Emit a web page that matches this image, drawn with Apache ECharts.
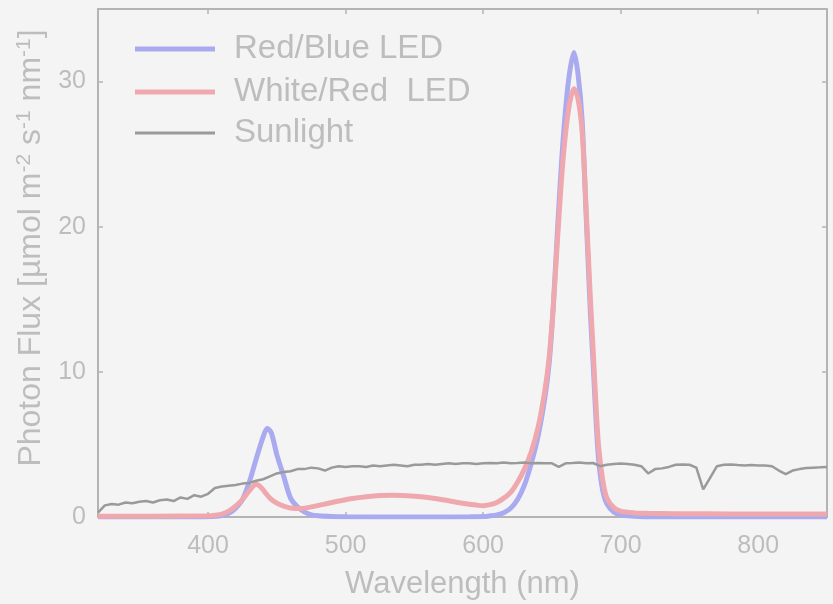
<!DOCTYPE html>
<html>
<head>
<meta charset="utf-8">
<script src="https://cdn.jsdelivr.net/npm/echarts@6/dist/echarts.min.js"></script>
<style>
  html, body { margin: 0; padding: 0; background: #f4f4f4; }
  #main { width: 833px; height: 604px; }
</style>
</head>
<body>
<div id="main"></div>
<script>
// wavelength ticks
const xTicks = [400, 500, 600, 700, 800];
const yTicks = [0, 10, 20, 30];

// Red/Blue LED
const rbWl = [320, 350, 380, 400, 410, 416, 420, 425, 430, 435, 440, 443, 446, 450, 455, 460, 465, 470, 475, 480, 490, 500, 550, 590,
  600, 605, 610, 615, 620, 625, 630, 635, 640, 645, 648, 651, 654, 658, 662, 666, 669, 672, 675, 678, 680, 682, 684, 687, 690, 695, 700, 710, 720, 780, 850];
const rbVal = [0, 0, 0, 0.02, 0.1, 0.3, 0.6, 1.2, 2.4, 4.0, 5.5, 6.1, 5.8, 4.3, 2.8, 1.3, 0.7, 0.35, 0.15, 0.08, 0.03, 0.01, 0, 0.01,
  0.03, 0.08, 0.15, 0.3, 0.6, 1.2, 2.2, 3.7, 5.6, 8.3, 10.6, 14.5, 19.7, 25.8, 30.0, 32.0, 30.5, 27.3, 20.5, 14.0, 10.5, 6.8, 3.9, 1.8, 0.9, 0.35, 0.15, 0.05, 0, 0, 0];

// White/Red LED
const wrWl = [320, 360, 400, 405, 410, 415, 420, 425, 430, 435, 438, 441, 445, 450, 455, 460, 467, 475, 485, 495, 505, 515, 525, 535, 545, 555, 565, 575, 585, 595,
  600, 605, 610, 615, 620, 625, 630, 635, 640, 645, 648, 651, 654, 658, 662, 666, 669, 672, 675, 678, 680, 682, 684, 687, 690, 695, 700, 710, 720, 760, 800, 850];
const wrVal = [0.05, 0.06, 0.08, 0.12, 0.2, 0.4, 0.75, 1.2, 1.8, 2.25, 2.1, 1.75, 1.3, 0.95, 0.75, 0.62, 0.58, 0.7, 0.9, 1.1, 1.28, 1.4, 1.48, 1.5, 1.47, 1.4, 1.28, 1.12, 0.95, 0.82,
  0.78, 0.85, 1.0, 1.3, 1.7, 2.4, 3.3, 4.5, 6.2, 8.8, 11.0, 14.5, 19.0, 24.5, 28.0, 29.5, 28.8, 26.5, 21.0, 15.0, 11.5, 7.8, 4.8, 2.5, 1.3, 0.65, 0.4, 0.28, 0.25, 0.22, 0.2, 0.2];

// Sunlight
const sunWl = [320, 325, 330, 335, 340, 345, 350, 355, 360, 365, 370, 375, 380, 385, 390, 395, 400, 405, 410, 415, 420, 425, 430, 435, 440, 445,
  450, 455, 460, 465, 470, 475, 480, 485, 490, 495, 500, 505, 510, 515, 520, 525, 530, 535, 540, 545, 550, 555, 560, 565, 570, 575, 580, 585,
  590, 595, 600, 605, 610, 615, 620, 625, 630, 635, 640, 645, 650, 655, 660, 665, 670, 675, 680, 685, 690, 695, 700, 705, 710, 715, 720, 725,
  730, 735, 740, 745, 750, 755, 760, 765, 770, 775, 780, 785, 790, 795, 800, 805, 810, 815, 820, 825, 830, 835, 840, 845, 850];
const sunVal = [0.3, 0.8, 0.9, 0.85, 1.0, 0.95, 1.05, 1.1, 1.0, 1.15, 1.2, 1.1, 1.35, 1.25, 1.5, 1.4, 1.6, 2.0, 2.1, 2.15, 2.2, 2.3, 2.35, 2.5, 2.6, 2.8,
  3.0, 3.1, 3.15, 3.3, 3.3, 3.4, 3.35, 3.2, 3.4, 3.5, 3.45, 3.5, 3.5, 3.45, 3.55, 3.5, 3.55, 3.6, 3.55, 3.5, 3.6, 3.6, 3.65, 3.6, 3.65, 3.7, 3.65, 3.7,
  3.7, 3.65, 3.7, 3.72, 3.7, 3.75, 3.7, 3.72, 3.75, 3.7, 3.72, 3.7, 3.7, 3.45, 3.7, 3.72, 3.75, 3.7, 3.72, 3.5, 3.6, 3.65, 3.68, 3.65, 3.6, 3.5, 3.0, 3.3,
  3.35, 3.45, 3.6, 3.62, 3.6, 3.4, 1.9, 2.7, 3.5, 3.6, 3.62, 3.58, 3.55, 3.58, 3.55, 3.55, 3.5, 3.2, 2.95, 3.2, 3.3, 3.38, 3.4, 3.42, 3.45];

function pairs(xs, ys) {
  return xs.map((x, i) => [x, ys[i]]);
}

const textColor = '#bdbdbd';
const axisColor = '#b4b4b4';
const font = 'Liberation Sans, Arial, sans-serif';

const chart = echarts.init(document.getElementById('main'));

function legendRow(name, top, h) {
  return {
    data: [name],
    left: 130,
    top: top,
    icon: 'rect',
    itemWidth: 80,
    itemHeight: h,
    textStyle: { color: textColor, fontSize: 33, fontFamily: font, padding: [0, 0, 0, 14], lineHeight: 36 }
  };
}

const axisCommon = {
  type: 'value',
  axisLine: { show: true, onZero: false, lineStyle: { color: axisColor, width: 2 } },
  splitLine: { show: false },
  axisTick: { inside: true, length: 5, lineStyle: { color: axisColor, width: 1.5 } }
};

const option = {
  backgroundColor: '#f4f4f4',
  animation: false,
  grid: { left: 98, right: 6, top: 9, bottom: 87, outerBoundsMode: 'none' },
  legend: [
    legendRow('Red/Blue LED', 26, 5),
    legendRow('White/Red  LED', 69, 5),
    legendRow('Sunlight', 110, 3)
  ],
  xAxis: [
    Object.assign({}, axisCommon, {
      min: 320, max: 850,
      name: 'Wavelength (nm)',
      nameLocation: 'middle',
      nameGap: 52,
      nameTextStyle: { color: textColor, fontSize: 31, fontFamily: font },
      axisTick: Object.assign({}, axisCommon.axisTick, { customValues: xTicks }),
      axisLabel: { customValues: xTicks, color: textColor, fontSize: 25, fontFamily: font, margin: 17 }
    }),
    Object.assign({}, axisCommon, {
      min: 320, max: 850, position: 'top',
      axisTick: Object.assign({}, axisCommon.axisTick, { customValues: xTicks }),
      axisLabel: { show: false }
    })
  ],
  yAxis: [
    Object.assign({}, axisCommon, {
      min: 0, max: 35,
      name: 'Photon Flux [µmol m{s|-2} s{s|-1} nm{s|-1}]',
      nameLocation: 'middle',
      nameGap: 47,
      nameRotate: 90,
      nameTextStyle: {
        color: textColor, fontSize: 32, fontFamily: font, padding: [0, 0, 0, 30],
        rich: { s: { fontSize: 21, color: textColor, fontFamily: font, verticalAlign: 'top', padding: [0, 0, 14, 0] } }
      },
      axisTick: Object.assign({}, axisCommon.axisTick, { customValues: yTicks }),
      axisLabel: { customValues: yTicks, color: textColor, fontSize: 25, fontFamily: font, margin: 12 }
    }),
    Object.assign({}, axisCommon, {
      min: 0, max: 35, position: 'right',
      axisTick: Object.assign({}, axisCommon.axisTick, { customValues: yTicks }),
      axisLabel: { show: false }
    })
  ],
  series: [
    {
      name: 'Sunlight', type: 'line', data: pairs(sunWl, sunVal),
      showSymbol: false, symbol: 'none', z: 3,
      lineStyle: { color: '#9a9a9a', width: 2.5 }, itemStyle: { color: '#9a9a9a' }
    },
    {
      name: 'Red/Blue LED', type: 'line', data: pairs(rbWl, rbVal),
      showSymbol: false, symbol: 'none', smooth: 0.3, z: 2,
      lineStyle: { color: '#aaaaf0', width: 5 }, itemStyle: { color: '#aaaaf0' }
    },
    {
      name: 'White/Red  LED', type: 'line', data: pairs(wrWl, wrVal),
      showSymbol: false, symbol: 'none', smooth: 0.3, z: 2,
      lineStyle: { color: '#efa9ae', width: 5 }, itemStyle: { color: '#efa9ae' }
    }
  ]
};

chart.setOption(option);
</script>
</body>
</html>
